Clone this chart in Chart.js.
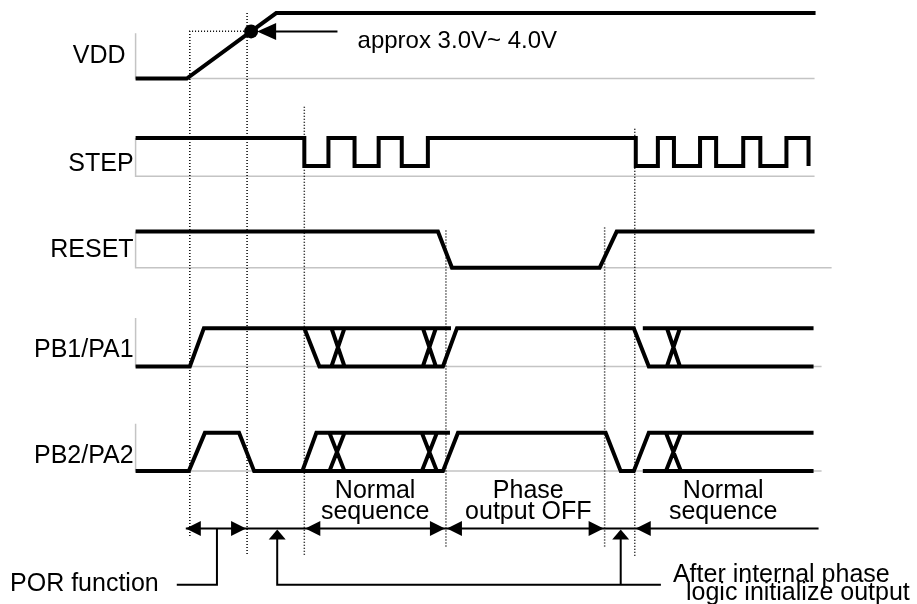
<!DOCTYPE html>
<html>
<head>
<meta charset="utf-8">
<script src="https://cdn.jsdelivr.net/npm/chart.js@4.4.1/dist/chart.umd.min.js"></script>
<style>
html, body { margin: 0; padding: 0; background: #fff; }
#wrap { width: 917px; height: 604px; }
</style>
</head>
<body>
<div id="wrap"><canvas id="chartId" width="917" height="604"></canvas></div>
<script>
// signals (time axis in arbitrary units, level 0 = low, 1 = high)
const signalNames = ['VDD', 'STEP', 'RESET', 'PB1/PA1', 'PB2/PA2'];
const timeStart = 137;

// VDD ramp, the 3rd point is the ~3.0V..4.0V threshold (drawn as a dot)
const vddTime  = [137, 188, 252, 277, 814];
const vddLevel = [0, 0, 0.72, 1, 1];
const porIndex = 2;

const stepTime  = [137, 305, 305, 329, 329, 355, 355, 379, 379, 402, 402, 428, 428, 635, 635, 657, 657, 673, 673, 699, 699, 715, 715, 742, 742, 759, 759, 785, 785, 807, 807];
const stepLevel = [1, 1, 0, 0, 1, 1, 0, 0, 1, 1, 0, 0, 1, 1, 0, 0, 1, 1, 0, 0, 1, 1, 0, 0, 1, 1, 0, 0, 1, 1, 0];

const resetTime  = [137, 438, 452, 599, 616, 813];
const resetLevel = [1, 1, 0, 0, 1, 1];

// null = pen up
const pb1Time  = [137, 191, 205, 451, null, 305, 320, 443, 457, 633, 648, 812, null, 642, 812, null, 332, 345, null, 345, 332, null, 423, 436, null, 436, 423, null, 666, 679, null, 679, 666];
const pb1Level = [0, 0, 1, 1, null, 1, 0, 0, 1, 1, 0, 0, null, 1, 1, null, 1, 0, null, 1, 0, null, 1, 0, null, 1, 0, null, 1, 0, null, 1, 0];

const pb2Time  = [137, 190, 206, 240, 255, 303, 317, 450, null, 303, 443, 458, 605, 620, 633, 648, 812, null, 642, 812, null, 330, 345, null, 345, 330, null, 422, 437, null, 437, 422, null, 665, 680, null, 680, 665];
const pb2Level = [0, 0, 1, 1, 0, 0, 1, 1, null, 0, 0, 1, 1, 0, 0, 1, 1, null, 0, 0, null, 1, 0, null, 1, 0, null, 1, 0, null, 1, 0, null, 1, 0, null, 1, 0];

// timing marks
const guideTime = [191, 248, 305, 446, 604, 634];
const spanStart = [191, 305, 446, 634];
const spanEnd   = [248, 446, 604, 810];
const spanText  = [[], ['Normal', 'sequence'], ['Phase', 'output OFF'], ['Normal', 'sequence']];
const initTime  = [278, 620];
const porMarkTime = 218;

// layout (y in pixel units of the y scale)
const laneLayout = {
    'VDD':     { lo: 80,  hi: 15,  axisTop: 35,  axisEnd: 813, labelX: 127, labelY: 65 },
    'STEP':    { lo: 167, hi: 139, axisTop: 139, axisEnd: 813, labelX: 135, labelY: 172, axisY: 177 },
    'RESET':   { lo: 268, hi: 232, axisTop: 232, axisEnd: 830, labelX: 135, labelY: 257 },
    'PB1/PA1': { lo: 366, hi: 328, axisTop: 318, axisEnd: 820, labelX: 135, labelY: 357 },
    'PB2/PA2': { lo: 470, hi: 432, axisTop: 423, axisEnd: 820, labelX: 135, labelY: 462 }
};
const guideTop    = [33, 15, 108, 231, 228, 130];
const guideBottom = [535, 553, 555, 545, 546, 555];
const spanY = 527;
const bracketY = 583;
const FONT = '"Liberation Sans", Arial, sans-serif';
const edge = 2; // line overflow that Chart.js reserves round the area

function toPoints(times, levels, lane) {
    const L = laneLayout[lane];
    return times.map(function(t, i) {
        if (levels[i] === null) return { x: times[i - 1], y: null };
        return { x: t, y: L.lo + levels[i] * (L.hi - L.lo) };
    });
}

const datasets = [];
const sig = [[vddTime, vddLevel], [stepTime, stepLevel], [resetTime, resetLevel], [pb1Time, pb1Level], [pb2Time, pb2Level]];
sig.forEach(function(s, i) {
    datasets.push({
        label: signalNames[i],
        data: toPoints(s[0], s[1], signalNames[i]),
        borderColor: '#000', borderWidth: 4, borderJoinStyle: 'miter',
        pointRadius: i === 0 ? function(c) { return c.dataIndex === porIndex ? 7 : 0; } : 0,
        pointBorderWidth: 0,
        pointBackgroundColor: '#000',
        spanGaps: false, order: 1
    });
});
// gray axes
signalNames.forEach(function(n) {
    const L = laneLayout[n];
    const ay = L.axisY || L.lo;
    datasets.push({
        label: 'axis ' + n,
        data: [{ x: timeStart, y: L.axisTop }, { x: timeStart, y: ay }, { x: L.axisEnd, y: ay }],
        borderColor: '#c4c4c4', borderWidth: 1.5, pointRadius: 0, order: 5
    });
});
// dotted guides
guideTime.forEach(function(t, i) {
    const pts = [{ x: t, y: guideTop[i] }, { x: t, y: guideBottom[i] }];
    if (i === 0) pts.unshift({ x: guideTime[1], y: guideTop[0] });
    datasets.push({
        label: 'guide ' + i,
        data: pts,
        borderColor: '#000', borderWidth: 1.5, borderDash: [1, 2], pointRadius: 0, order: 4
    });
});

function head(ctx, x, y, dx, dy, len, half) {
    ctx.beginPath();
    ctx.moveTo(x, y);
    ctx.lineTo(x - dx * len - dy * half, y - dy * len - dx * half);
    ctx.lineTo(x - dx * len + dy * half, y - dy * len + dx * half);
    ctx.closePath();
    ctx.fill();
}

const annotations = {
    id: 'annotations',
    afterDatasetsDraw: function(chart) {
        const ctx = chart.ctx;
        const xs = chart.scales.x, ys = chart.scales.y;
        const X = function(v) { return xs.getPixelForValue(v); };
        const Y = function(v) { return ys.getPixelForValue(v); };
        ctx.save();
        ctx.fillStyle = '#000';
        ctx.strokeStyle = '#000';

        // signal labels
        ctx.font = '25px ' + FONT;
        ctx.textAlign = 'right';
        ctx.textBaseline = 'alphabetic';
        signalNames.forEach(function(n) {
            const L = laneLayout[n];
            ctx.fillText(n, X(L.labelX), Y(L.labelY));
        });

        // threshold callout
        const vdd = laneLayout.VDD;
        const thT = vddTime[porIndex];
        const thY = Y(vdd.lo + vddLevel[porIndex] * (vdd.hi - vdd.lo));
        ctx.lineWidth = 2;
        ctx.beginPath();
        ctx.moveTo(X(thT + 20), thY);
        ctx.lineTo(X(338), thY);
        ctx.stroke();
        head(ctx, X(thT + 6), thY, -1, 0, 19, 8.5);
        ctx.font = '24px ' + FONT;
        ctx.textAlign = 'left';
        ctx.fillText('approx 3.0V~ 4.0V', X(358), thY + 17);

        // span arrows
        const sy = Y(spanY);
        ctx.lineWidth = 2;
        ctx.beginPath();
        ctx.moveTo(X(spanStart[0] - 4), sy);
        ctx.lineTo(X(817), sy);
        ctx.stroke();
        spanStart.forEach(function(s, i) {
            head(ctx, X(s) - (i === 0 ? 4 : -1), sy, -1, 0, 15, 7.5);
            if (i < spanStart.length - 1) head(ctx, X(spanEnd[i]) - 1, sy, 1, 0, 15, 7.5);
        });
        ctx.font = '25px ' + FONT;
        ctx.textAlign = 'center';
        spanText.forEach(function(tx, i) {
            const cx = X((spanStart[i] + spanEnd[i]) / 2) + (i === 2 ? 3 : 0);
            if (tx.length) {
                ctx.fillText(tx[0], cx, Y(497));
                ctx.fillText(tx[1], cx, Y(518));
            }
        });

        // POR function bracket
        const by = Y(bracketY);
        ctx.lineWidth = 2;
        ctx.beginPath();
        ctx.moveTo(X(porMarkTime), sy);
        ctx.lineTo(X(porMarkTime), by);
        ctx.lineTo(X(178), by);
        ctx.stroke();
        ctx.textAlign = 'left';
        ctx.fillText('POR function', X(12), Y(589));

        // phase logic init arrows
        ctx.beginPath();
        ctx.moveTo(X(initTime[0]), Y(spanY + 9));
        ctx.lineTo(X(initTime[0]), by);
        ctx.lineTo(X(660), by);
        ctx.moveTo(X(initTime[1]), Y(spanY + 9));
        ctx.lineTo(X(initTime[1]), by);
        ctx.stroke();
        initTime.forEach(function(t) {
            head(ctx, X(t), Y(spanY + 1), 0, -1, 10, 8.5);
        });
        ctx.fillText('After internal phase', X(672), Y(580));
        ctx.fillText('logic initialize output', X(685), Y(598));

        ctx.restore();
    }
};

const chartId = new Chart(document.getElementById('chartId').getContext('2d'), {
    type: 'line',
    data: { datasets: datasets },
    options: {
        responsive: false,
        animation: false,
        devicePixelRatio: 1,
        layout: { padding: 0 },
        elements: { line: { tension: 0 } },
        scales: {
            x: { type: 'linear', min: edge, max: 917 - edge, display: false },
            y: { type: 'linear', min: edge, max: 604 - edge, reverse: true, display: false }
        },
        plugins: { legend: { display: false }, tooltip: { enabled: false } }
    },
    plugins: [annotations]
});
</script>
</body>
</html>
